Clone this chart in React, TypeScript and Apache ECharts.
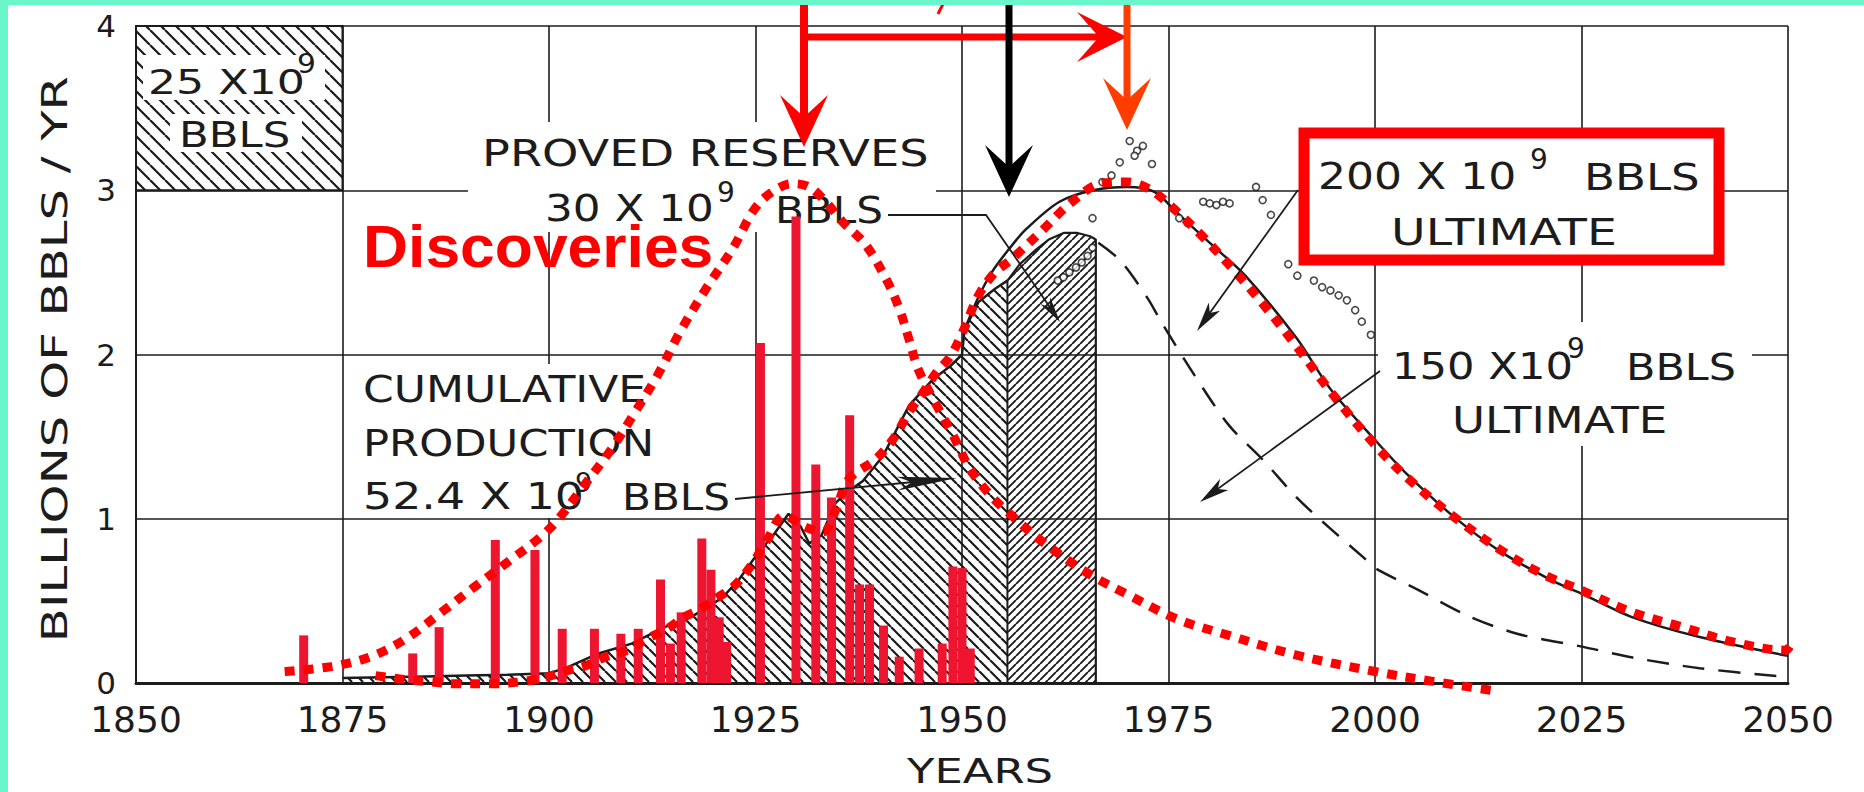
import React, { useEffect, useRef } from "react";
import * as echarts from "echarts";

// ---------- data ----------
const xMin = 1850;
const xMax = 2050;
const xStep = 25;
const yMin = 0;
const yMax = 4;
const yStep = 1;

// annual discoveries (bars), billions of bbls
const discYears = [1870.3, 1883.5, 1886.7, 1893.5, 1898.3, 1901.6, 1905.5, 1908.7, 1910.8, 1913.5, 1914.7, 1916.0, 1918.5, 1919.6, 1920.6, 1921.5, 1925.6, 1929.9, 1932.3, 1934.2, 1936.4, 1937.6, 1938.8, 1940.5, 1942.4, 1944.8, 1947.6, 1948.9, 1950.0, 1951.0];
const discValues = [0.29, 0.18, 0.34, 0.87, 0.81, 0.33, 0.33, 0.30, 0.33, 0.63, 0.24, 0.43, 0.88, 0.69, 0.40, 0.25, 2.07, 2.84, 1.33, 1.13, 1.63, 0.60, 0.60, 0.35, 0.16, 0.21, 0.24, 0.71, 0.70, 0.21];

// historical production (top of the hatched area)
const histYears = [1875, 1880, 1885, 1890, 1895, 1900, 1902, 1906, 1910, 1914, 1917.5, 1921, 1923, 1925, 1927.3, 1929, 1930.5, 1931.5, 1933, 1934.6, 1936, 1938, 1940.4, 1943.6, 1946.5, 1948.6, 1950, 1950.3, 1952, 1954, 1955.5];
const histValues = [0.03, 0.035, 0.04, 0.045, 0.05, 0.06, 0.09, 0.18, 0.24, 0.34, 0.41, 0.52, 0.63, 0.77, 0.91, 1.03, 0.95, 0.85, 0.9, 1.09, 1.16, 1.23, 1.38, 1.69, 1.85, 1.93, 2.0, 2.15, 2.32, 2.4, 2.45];

// proved reserves block
const resYears = [1955.5, 1957, 1959, 1960.5, 1962.3, 1964, 1965.5, 1966.2, 1966.2];
const resValues = [2.45, 2.55, 2.64, 2.7, 2.74, 2.74, 2.72, 2.7, 0];

// 200 x 10^9 ultimate (solid)
const u200Years = [1950.3, 1952, 1953.6, 1955.5, 1957.7, 1961.8, 1965.9, 1970, 1973.3, 1976.1, 1980.2, 1984.3, 1990.5, 1994.6, 2000, 2003.9, 2009.6, 2015.2, 2021.2, 2025.2, 2031.2, 2039.3, 2050];
const u200Values = [2.15, 2.35, 2.5, 2.63, 2.76, 2.93, 3.0, 3.02, 2.99, 2.86, 2.67, 2.48, 2.1, 1.79, 1.48, 1.27, 1.01, 0.8, 0.63, 0.54, 0.4, 0.28, 0.165];

// 150 x 10^9 ultimate (dashed)
const u150Years = [1966.5, 1969.2, 1972.5, 1974.1, 1978.2, 1982.3, 1986.4, 1990.5, 1994.6, 1998.7, 2000, 2005.1, 2011.2, 2017.2, 2025.2, 2031.2, 2039.3, 2049];
const u150Values = [2.68, 2.57, 2.34, 2.2, 1.87, 1.57, 1.36, 1.13, 0.94, 0.76, 0.7, 0.57, 0.41, 0.3, 0.22, 0.155, 0.09, 0.04];

// observed production points (small circles)
const obsYears = [1961.6, 1962.3, 1963.0, 1963.8, 1964.5, 1965.2, 1965.8, 1965.8, 1967.0, 1968.1, 1969.1, 1970.3, 1971.2, 1971.9, 1970.9, 1973.0, 1976.3, 1977.3, 1979.2, 1980.0, 1980.8, 1981.6, 1982.4, 1985.6, 1986.4, 1987.4, 1989.5, 1990.6, 1992.6, 1993.6, 1994.6, 1995.6, 1996.6, 1997.6, 1998.4, 1999.5];
const obsValues = [2.45, 2.47, 2.5, 2.53, 2.56, 2.6, 2.65, 2.83, 3.05, 3.09, 3.17, 3.3, 3.24, 3.27, 3.21, 3.16, 2.83, 2.8, 2.93, 2.92, 2.91, 2.93, 2.92, 3.02, 2.94, 2.85, 2.55, 2.48, 2.45, 2.41, 2.39, 2.36, 2.33, 2.27, 2.2, 2.12];

// red dotted: discoveries curve
const discCurveYears = [1868, 1873.6, 1878.4, 1882.7, 1886.7, 1891.1, 1895.1, 1899, 1901, 1904.2, 1907.5, 1910.3, 1913.1, 1916, 1919, 1922.3, 1924.8, 1927, 1929.5, 1931.5, 1933.5, 1935.5, 1938.3, 1940.8, 1942.4, 1943.6, 1944.7, 1946.5, 1949, 1951, 1953.5, 1956, 1960, 1965.5, 1970, 1976, 1982.3, 1990.5, 2000, 2007, 2014.8];
const discCurveValues = [0.07, 0.1, 0.16, 0.27, 0.42, 0.59, 0.74, 0.89, 0.99, 1.2, 1.42, 1.64, 1.87, 2.15, 2.4, 2.65, 2.88, 2.99, 3.04, 3.02, 2.93, 2.81, 2.67, 2.46, 2.28, 2.09, 1.91, 1.73, 1.5, 1.3, 1.14, 1.02, 0.85, 0.66, 0.54, 0.39, 0.29, 0.17, 0.07, 0.01, -0.05];

// red dotted: production curve
const prodCurveYears = [1879, 1882, 1885, 1889, 1893, 1897, 1900, 1902.2, 1904.2, 1906.9, 1909.5, 1911.9, 1914.3, 1916.3, 1918.3, 1920.4, 1922.4, 1924.4, 1926.4, 1928.5, 1931, 1933.2, 1934.6, 1936.3, 1939.5, 1941.6, 1943.6, 1945.3, 1946.9, 1948.6, 1950.2, 1952, 1954, 1956, 1959.8, 1963.1, 1966.8, 1970, 1972.9, 1975.8, 1979.1, 1982.8, 1986.4, 1990.5, 1995, 2000, 2003.9, 2009.6, 2015.2, 2020.4, 2025.2, 2031.2, 2037.3, 2043.3, 2049.7, 2050.3];
const prodCurveValues = [0.045, 0.025, 0.01, -0.005, -0.005, 0.01, 0.04, 0.075, 0.1, 0.16, 0.2, 0.27, 0.33, 0.4, 0.45, 0.52, 0.59, 0.71, 0.87, 1.02, 0.95, 0.92, 1.04, 1.24, 1.36, 1.48, 1.65, 1.77, 1.89, 1.99, 2.15, 2.36, 2.5, 2.58, 2.76, 2.92, 3.04, 3.05, 3.0, 2.88, 2.72, 2.52, 2.31, 2.05, 1.75, 1.45, 1.25, 1.01, 0.81, 0.66, 0.56, 0.43, 0.34, 0.25, 0.2, 0.23];

const zip = (a: number[], b: number[]) => a.map((v, i) => [v, b[i]]);

// ---------- styles ----------
const INK = "#1c1c1c";
const RED = "#FF0000";
const BAR_RED = "#EE1530";
const ORANGE = "#FF3D00";
const MINT = "#6AF6CB";
const SANS = "DejaVu Sans";

function hatchCanvas(size: number, dir: "back" | "fwd", lw: number, color: string) {
  const c = document.createElement("canvas");
  c.width = size;
  c.height = size;
  const g = c.getContext("2d")!;
  g.strokeStyle = color;
  g.lineWidth = lw;
  g.beginPath();
  for (const o of [-size, 0, size]) {
    if (dir === "back") {
      g.moveTo(o, 0);
      g.lineTo(o + size, size);
    } else {
      g.moveTo(o, size);
      g.lineTo(o + size, 0);
    }
  }
  g.stroke();
  return { image: c, repeat: "repeat", imageWidth: size, imageHeight: size } as any;
}

function txt(text: string, x: number, cy: number, size: number, scaleX: number, z = 1, extra: any = {}) {
  return {
    type: "text",
    x,
    y: cy,
    scaleX,
    z,
    silent: true,
    style: {
      text,
      x: 0,
      y: 0,
      fill: INK,
      font: `${size}px ${SANS}`,
      align: "left",
      textAlign: "left",
      verticalAlign: "middle",
      textVerticalAlign: "middle",
      ...extra,
    },
  };
}

function whiteRect(x: number, y: number, w: number, h: number, z = 1) {
  return { type: "rect", z, silent: true, shape: { x, y, width: w, height: h }, style: { fill: "#ffffff" } };
}

function barbHead(tx: number, ty: number, dx: number, dy: number, len: number, halfW: number, notch: number, color: string, z: number) {
  const l = Math.hypot(dx, dy);
  const ux = dx / l;
  const uy = dy / l;
  const nx = -uy;
  const ny = ux;
  const bx = tx - ux * len;
  const by = ty - uy * len;
  const mx = tx - ux * notch;
  const my = ty - uy * notch;
  return {
    type: "polygon",
    z,
    silent: true,
    shape: { points: [[tx, ty], [bx + nx * halfW, by + ny * halfW], [mx, my], [bx - nx * halfW, by - ny * halfW]] },
    style: { fill: color },
  };
}

function seg(x1: number, y1: number, x2: number, y2: number, color: string, w: number, z: number) {
  return { type: "line", z, silent: true, shape: { x1, y1, x2, y2 }, style: { stroke: color, lineWidth: w } };
}

export default function App() {
  const ref = useRef<HTMLDivElement>(null);

  useEffect(() => {
    if (!ref.current) return;
    const chart = echarts.init(ref.current, null, { renderer: "svg" });

    const backHatch = hatchCanvas(11, "back", 2.2, "#1a1a1a");
    const fwdHatch = hatchCanvas(8, "fwd", 1.9, "#1a1a1a");
    const boxHatch = hatchCanvas(15, "back", 2.2, "#1a1a1a");

    const option: any = {
      animation: false,
      backgroundColor: "#ffffff",
      grid: { left: 136, right: 76, top: 26, bottom: 109 },
      xAxis: {
        type: "value",
        min: xMin,
        max: xMax,
        interval: xStep,
        axisLine: { show: true, lineStyle: { color: INK, width: 3 } },
        axisTick: { show: false },
        splitLine: { show: true, lineStyle: { color: INK, width: 1.6 } },
        axisLabel: { color: INK, fontSize: 36, fontFamily: SANS, margin: 18, formatter: (v: number) => String(v) },
      },
      yAxis: {
        type: "value",
        min: yMin,
        max: yMax,
        interval: yStep,
        axisLine: { show: true, lineStyle: { color: INK, width: 2 } },
        axisTick: { show: false },
        splitLine: { show: true, lineStyle: { color: INK, width: 1.6 } },
        axisLabel: { color: INK, fontSize: 31, fontFamily: SANS, margin: 20, formatter: (v: number) => String(v) },
      },
      series: [
        {
          type: "line",
          name: "Cumulative production",
          data: zip(histYears, histValues),
          symbol: "none",
          lineStyle: { color: INK, width: 2.5 },
          areaStyle: { color: backHatch, opacity: 1 },
          z: 2,
        },
        {
          type: "line",
          name: "Proved reserves",
          data: zip(resYears, resValues),
          symbol: "none",
          lineStyle: { color: INK, width: 2.2 },
          areaStyle: { color: fwdHatch, opacity: 1 },
          z: 2,
        },
        {
          type: "line",
          name: "boundary",
          data: [
            [histYears[histYears.length - 1], 0],
            [histYears[histYears.length - 1], histValues[histValues.length - 1]],
          ],
          symbol: "none",
          lineStyle: { color: INK, width: 2 },
          z: 2,
        },
        {
          type: "line",
          name: "200 x 10^9 ultimate",
          data: zip(u200Years, u200Values),
          symbol: "none",
          smooth: 0.3,
          lineStyle: { color: INK, width: 2.5 },
          z: 3,
        },
        {
          type: "line",
          name: "150 x 10^9 ultimate",
          data: zip(u150Years, u150Values),
          symbol: "none",
          smooth: 0.3,
          lineStyle: { color: INK, width: 2.5, type: [22, 14] },
          z: 3,
        },
        {
          type: "scatter",
          name: "Observed",
          data: zip(obsYears, obsValues),
          symbol: "circle",
          symbolSize: 7,
          itemStyle: { color: "#ffffff", borderColor: INK, borderWidth: 1.6 },
          z: 3,
        },
        {
          type: "bar",
          name: "Discoveries",
          data: zip(discYears, discValues),
          barWidth: 9,
          itemStyle: { color: BAR_RED },
          z: 4,
        },
        {
          type: "line",
          name: "Discoveries curve",
          data: zip(discCurveYears, discCurveValues),
          symbol: "none",
          smooth: 0.35,
          clip: false,
          lineStyle: { color: RED, width: 9, type: [10, 9], cap: "butt" },
          z: 5,
        },
        {
          type: "line",
          name: "Production curve",
          data: zip(prodCurveYears, prodCurveValues),
          symbol: "none",
          smooth: 0.35,
          clip: false,
          lineStyle: { color: RED, width: 9, type: [10, 9], cap: "butt" },
          z: 5,
        },
      ],
    };

    chart.setOption(option);

    const p = (x: number, y: number) => chart.convertToPixel({ gridIndex: 0 }, [x, y]) as number[];
    const b0 = p(1850, 4);
    const b1 = p(1875, 3);

    const graphics: any[] = [
      // hatched box top-left
      {
        type: "rect",
        z: 1,
        silent: true,
        shape: { x: b0[0], y: b0[1], width: b1[0] - b0[0], height: b1[1] - b0[1] },
        style: { fill: boxHatch, stroke: INK, lineWidth: 2 },
      },
      whiteRect(143, 55, 182, 45),
      whiteRect(170, 114, 132, 38),
      // text backgrounds
      whiteRect(468, 122, 468, 110),
      whiteRect(356, 364, 382, 154),
      whiteRect(1378, 322, 374, 124),

      txt("25 X10", 148, 81.5, 34, 1.3),
      txt("9", 297, 64, 27, 1.1),
      txt("BBLS", 179, 135, 35, 1.24),

      txt("PROVED RESERVES", 482, 153.5, 37, 1.25),
      txt("30 X 10", 545, 208.5, 37, 1.18),
      txt("9", 717, 192.5, 28, 1.0),
      txt("BBLS", 775, 209.5, 37, 1.14),

      txt("CUMULATIVE", 363, 389, 37, 1.19),
      txt("PRODUCTION", 363, 443, 37, 1.17),
      txt("52.4 X 10", 363, 496, 37, 1.24),
      txt("9", 575, 482, 27, 1.0),
      txt("BBLS", 622, 497, 37, 1.14),

      txt("150 X10", 1392, 366.5, 37, 1.17),
      txt("9", 1567, 348, 28, 1.0),
      txt("BBLS", 1626, 367.5, 37, 1.16),
      txt("ULTIMATE", 1452, 420, 37, 1.22),

      // red box "200"
      {
        type: "rect",
        z: 6,
        silent: true,
        shape: { x: 1304, y: 133, width: 415, height: 127 },
        style: { fill: "#ffffff", stroke: RED, lineWidth: 11 },
      },
      txt("200 X 10", 1318, 176, 37, 1.19, 7),
      txt("9", 1530, 159.5, 28, 1.0, 7),
      txt("BBLS", 1584, 177, 37, 1.22, 7),
      txt("ULTIMATE", 1391, 232.5, 37, 1.28, 7),

      // Discoveries label
      txt("Discoveries", 363, 246.5, 60, 1.04, 6, { fill: RED, font: `bold 60px Liberation Sans` }),

      // axis titles
      txt("YEARS", 907, 771, 34, 1.32, 6),
      {
        type: "text",
        x: 55,
        y: 359,
        rotation: Math.PI / 2,
        scaleX: 1.38,
        z: 6,
        silent: true,
        style: {
          text: "BILLIONS OF BBLS / YR",
          x: 0,
          y: 0,
          fill: INK,
          font: `36px ${SANS}`,
          align: "center",
          textAlign: "center",
          verticalAlign: "middle",
          textVerticalAlign: "middle",
        },
      },

      // leader arrows (black, thin)
      {
        type: "polyline",
        z: 6,
        silent: true,
        shape: { points: [[888, 215], [986, 215], [1056, 316]] },
        style: { stroke: INK, lineWidth: 1.8, fill: "none" },
      },
      barbHead(1060, 322, 74, 107, 26, 6, 18, INK, 6),
      seg(735, 499, 935, 480, INK, 1.8, 6),
      barbHead(957, 478, 222, -21, 60, 7, 45, INK, 6),
      seg(1298, 190, 1204, 321, INK, 1.8, 6),
      barbHead(1197, 331, -101, 141, 30, 7, 22, INK, 6),
      seg(1380, 371, 1208, 496, INK, 1.8, 6),
      barbHead(1200, 502, -180, 131, 30, 7, 22, INK, 6),

      // top arrows
      seg(804, 0, 804, 125, RED, 8, 10),
      barbHead(804, 147, 0, 1, 52, 24, 30, RED, 10),
      seg(800, 37, 1100, 37, RED, 7, 10),
      barbHead(1127, 37, 1, 0, 50, 25, 28, RED, 10),
      seg(1127, 0, 1127, 108, ORANGE, 7, 10),
      barbHead(1127, 130, 0, 1, 52, 24, 30, ORANGE, 10),
      seg(1009, 0, 1009, 175, "#000000", 7, 10),
      barbHead(1009, 197, 0, 1, 52, 24, 30, "#000000", 10),
      seg(944, 2, 938, 14, RED, 3, 10),

      // mint border strips
      { type: "rect", z: 20, silent: true, shape: { x: 0, y: 0, width: 8, height: 792 }, style: { fill: MINT } },
      { type: "rect", z: 20, silent: true, shape: { x: 0, y: 0, width: 1864, height: 5 }, style: { fill: MINT } },
    ];

    chart.setOption({ graphic: { elements: graphics } });

    return () => {
      chart.dispose();
    };
  }, []);

  return (
    <div
      ref={ref}
      style={{ position: "fixed", left: 0, top: 0, width: 1864, height: 792, background: "#ffffff" }}
    />
  );
}
